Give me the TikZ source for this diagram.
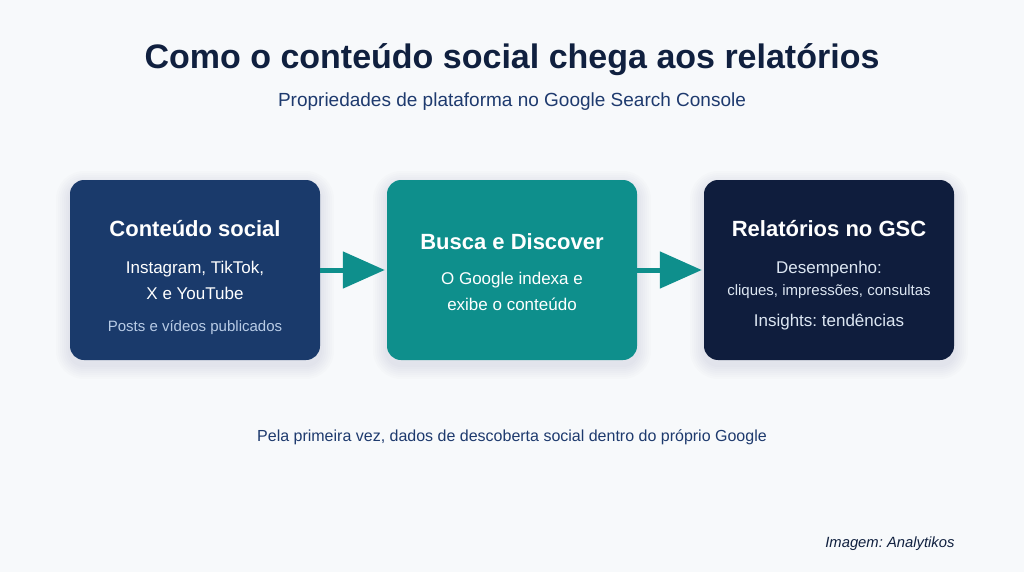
\documentclass[tikz,border=0pt]{standalone}
\usepackage{fontspec}
\setmainfont{Liberation Sans}
\usetikzlibrary{arrows.meta}
\definecolor{bg}{HTML}{F7F9FB}
\definecolor{navy}{HTML}{1A3A6B}
\definecolor{teal}{HTML}{0E8F8C}
\definecolor{dark}{HTML}{0F1D3D}
\definecolor{titlec}{HTML}{10203F}
\definecolor{subc}{HTML}{1E3A6E}
\definecolor{lightb}{HTML}{B9CCE6}
\definecolor{lightw}{HTML}{DCE6F2}
\definecolor{shadowc}{HTML}{1A2A50}
\tikzset{
  box/.style={rounded corners=14pt, minimum width=250pt, minimum height=180pt, inner sep=0pt},
  btitle/.style={text=white, font=\fontsize{22}{26}\selectfont\bfseries},
  bline/.style={text=white, font=\fontsize{17}{20}\selectfont},
  bsmall/.style={text=lightb, font=\fontsize{15}{18}\selectfont},
  flow/.style={draw=teal, line width=5pt, -{Triangle[length=42pt,width=36pt]}}
}
\frenchspacing
\begin{document}
\begin{tikzpicture}[x=1pt,y=-1pt]
\fill[bg] (0,0) rectangle (1024,572);
\useasboundingbox (0,0) rectangle (1024,572);
\node[text=titlec, font=\fontsize{34}{40}\selectfont\bfseries] (title) at (512,60) {Como o conteúdo social chega aos relatórios};
\node[text=subc, font=\fontsize{19}{22}\selectfont] (sub) at (512,102) {Propriedades de plataforma no Google Search Console};

\foreach \cx in {195,512,829}{
  \foreach \e in {2,4,...,14}{
    \fill[shadowc, opacity=0.01, rounded corners=14pt+\e pt]
      (\cx-125-\e, 185-\e) rectangle (\cx+125+\e, 365+\e);
  }
}

\node[box, fill=navy] (b1) at (195,270) {};
\node[box, fill=teal] (b2) at (512,270) {};
\node[box, fill=dark] (b3) at (829,270) {};

\node[btitle] (t1) at (195,229) {Conteúdo social};
\node[bline] (l1a) at (195,269) {Instagram, TikTok,};
\node[bline] (l1b) at (195,293) {X e YouTube};
\node[bsmall] (l1c) at (195,328) {Posts e vídeos publicados};

\node[btitle] (t2) at (512,242) {Busca e Discover};
\node[bline] (l2a) at (512,280) {O Google indexa e};
\node[bline] (l2b) at (512,304) {exibe o conteúdo};

\node[btitle] (t3) at (829,229) {Relatórios no GSC};
\node[bline, text=lightw] (l3a) at (829,269) {Desempenho:};
\node[bsmall, text=lightw] (l3b) at (829,292) {cliques, impressões, consultas};
\node[bline, text=lightw] (l3c) at (829,322) {Insights: tendências};

\draw[flow] (b1.east) -- ([xshift=-2pt]b2.west);
\draw[flow] (b2.east) -- ([xshift=-2pt]b3.west);

\node[text=subc, font=\fontsize{16}{19}\selectfont] (foot) at (512,437) {Pela primeira vez, dados de descoberta social dentro do próprio Google};
\node[text=titlec, font=\fontsize{14.8}{17}\selectfont\itshape, anchor=east] (credit) at (958,544) {Imagem: Analytikos};
\end{tikzpicture}
\end{document}
